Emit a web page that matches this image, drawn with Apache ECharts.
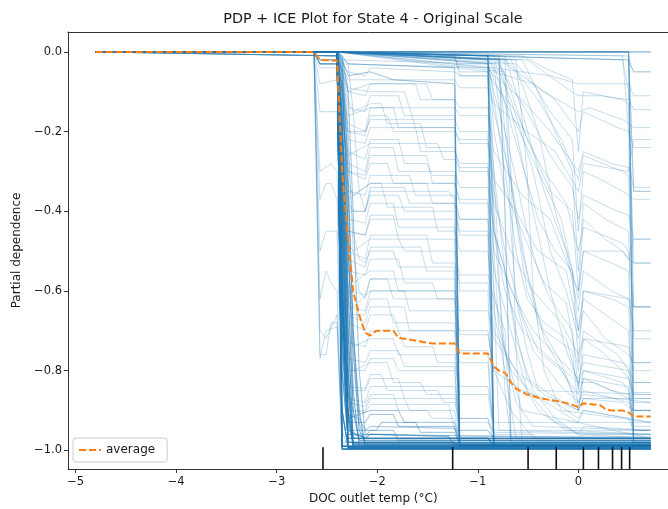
<!DOCTYPE html>
<html>
<head>
<meta charset="utf-8">
<script src="https://cdn.jsdelivr.net/npm/echarts@6/dist/echarts.min.js"></script>
<style>
  html, body { margin: 0; padding: 0; background: #fff; }
  #chart { width: 668px; height: 509px; }
</style>
</head>
<body>
<div id="chart"></div>
<script>
// Partial dependence of the model output on DOC outlet temperature (State 4).
const titleText = 'PDP + ICE Plot for State 4 - Original Scale';
const xName = 'DOC outlet temp (°C)';
const yName = 'Partial dependence';

const xTicks = [-5, -4, -3, -2, -1, 0];
const yTicks = [-1.0, -0.8, -0.6, -0.4, -0.2, 0.0];

// Deciles of the feature (rug at the bottom of the axes)
const rugDeciles = [-2.54, -1.25, -0.50, -0.22, 0.05, 0.20, 0.34, 0.43, 0.51];

// Averaged curve (PDP)
const avgTemp = [-4.80, -2.63, -2.57, -2.40, -2.35, -2.29, -2.24, -2.18, -2.12, -2.07, -2.01, -1.96, -1.84, -1.79, -1.73,
  -1.45, -1.23, -1.18, -0.90, -0.84, -0.79, -0.73, -0.67, -0.62, -0.51, -0.40, -0.28, -0.17, -0.06, 0.00, 0.05, 0.11,
  0.22, 0.27, 0.33, 0.44, 0.50, 0.55, 0.72];
const avgValue = [0, 0, -0.02, -0.022, -0.30, -0.47, -0.60, -0.66, -0.705, -0.712, -0.70, -0.70, -0.70, -0.718, -0.72,
  -0.732, -0.732, -0.757, -0.757, -0.79, -0.80, -0.805, -0.83, -0.845, -0.86, -0.868, -0.874, -0.878, -0.886, -0.892, -0.882, -0.884,
  -0.887, -0.897, -0.90, -0.90, -0.905, -0.915, -0.915];

// Individual conditional expectation curves: every curve starts flat at 0 from the lowest temperature
const iceStart = [-4.80, 0];
const iceCurves = [
  // dropping to the floor just above -2.4 °C
  [[-2.40,0],[-2.35,-0.99],[0.72,-0.99]],
  [[-2.40,0],[-2.35,-0.55],[-2.29,-0.995],[0.72,-0.995]],
  [[-2.63,0],[-2.57,-0.03],[-2.40,-0.03],[-2.35,-0.3],[-2.29,-0.8],[-2.24,-0.985],[0.72,-0.985]],
  [[-2.40,0],[-2.35,-0.997],[0.72,-0.997]],
  [[-2.40,0],[-2.35,-0.7],[-2.29,-0.98],[-1.23,-0.98],[-1.18,-0.99],[0.72,-0.99]],
  [[-2.40,0],[-2.35,-0.15],[-2.29,-0.6],[-2.24,-0.9],[-2.18,-0.975],[0.72,-0.975]],
  [[-2.40,0],[-2.35,-0.9],[-2.29,-0.993],[0.72,-0.993]],
  [[-2.63,0],[-2.57,-0.02],[-2.40,-0.02],[-2.35,-0.45],[-2.29,-0.95],[-2.12,-0.97],[-2.07,-0.96],[-1.29,-0.965],[-1.23,-0.99],[0.72,-0.99]],
  [[-2.40,0],[-2.35,-0.8],[-2.29,-0.97],[-0.90,-0.97],[-0.84,-0.988],[0.72,-0.988]],
  [[-2.40,0],[-2.35,-0.25],[-2.29,-0.5],[-2.24,-0.75],[-2.18,-0.95],[-2.12,-0.98],[0.72,-0.98]],
  [[-2.40,0],[-2.35,-0.4],[-2.29,-0.85],[-2.24,-0.99],[0.72,-0.99]],
  [[-2.40,-0.01],[-2.35,-0.65],[-2.29,-0.9],[-2.24,-0.982],[0.72,-0.982]],
  [[-2.40,0],[-2.35,-0.2],[-2.29,-0.7],[-2.24,-0.97],[0.72,-0.97]],
  [[-2.40,0],[-2.35,-0.6],[-2.29,-0.92],[-2.24,-0.99],[0.72,-0.99]],
  [[-2.40,-0.01],[-2.35,-0.05],[-2.29,-0.45],[-2.24,-0.85],[-2.18,-0.99],[0.72,-0.99]],
  [[-2.40,0],[-2.35,-0.1],[-2.29,-0.35],[-2.24,-0.7],[-2.18,-0.9],[-2.12,-0.99],[0.72,-0.99]],
  // lower band with small steps
  [[-2.40,0],[-2.35,-0.6],[-2.29,-0.93],[-2.12,-0.93],[-2.07,-0.91],[-1.84,-0.91],[-1.79,-0.94],[-1.23,-0.94],[-1.18,-0.985],[0.72,-0.985]],
  [[-2.40,0],[-2.35,-0.5],[-2.29,-0.88],[-2.12,-0.89],[-2.07,-0.86],[-1.84,-0.86],[-1.79,-0.9],[-1.51,-0.9],[-1.45,-0.92],[-1.23,-0.92],[-1.18,-0.97],[-0.90,-0.97],[-0.84,-0.99],[0.72,-0.99]],
  [[-2.40,0],[-2.35,-0.4],[-2.29,-0.8],[-2.24,-0.85],[-2.12,-0.85],[-2.07,-0.82],[-1.79,-0.82],[-1.73,-0.87],[-1.23,-0.87],[-1.18,-0.95],[-0.90,-0.95],[-0.84,-0.97],[0.50,-0.97],[0.55,-0.98],[0.72,-0.98]],
  [[-2.40,0],[-2.35,-0.7],[-2.29,-0.95],[-2.12,-0.95],[-2.07,-0.94],[-1.23,-0.945],[-1.18,-0.985],[0.72,-0.985]],
  [[-2.40,0],[-2.35,-0.35],[-2.29,-0.75],[-2.24,-0.80],[-2.07,-0.78],[-1.90,-0.78],[-1.84,-0.83],[-1.57,-0.83],[-1.51,-0.86],[-1.23,-0.86],[-1.18,-0.92],[-0.90,-0.92],[-0.84,-0.96],[-0.45,-0.96],[-0.40,-0.98],[0.72,-0.98]],
  [[-2.40,0],[-2.35,-0.65],[-2.29,-0.96],[-1.84,-0.96],[-1.79,-0.975],[0.72,-0.975]],
  [[-2.40,0],[-2.35,-0.55],[-2.29,-0.9],[-2.12,-0.905],[-2.07,-0.885],[-1.29,-0.885],[-1.23,-0.95],[-0.90,-0.95],[-0.84,-0.97],[0.00,-0.97],[0.05,-0.96],[0.72,-0.96]],
  [[-2.40,0],[-2.35,-0.45],[-2.29,-0.86],[-2.24,-0.9],[-2.12,-0.9],[-2.07,-0.87],[-1.73,-0.87],[-1.68,-0.9],[-1.23,-0.9],[-1.18,-0.965],[0.72,-0.965]],
  [[-2.40,0],[-2.35,-0.62],[-2.29,-0.91],[-2.18,-0.92],[-2.12,-0.95],[-2.01,-0.95],[-1.96,-0.93],[-1.62,-0.93],[-1.57,-0.955],[-1.23,-0.955],[-1.18,-0.99],[0.72,-0.99]],
  [[-2.40,0],[-2.35,-0.58],[-2.29,-0.84],[-2.12,-0.845],[-2.07,-0.81],[-1.96,-0.81],[-1.90,-0.85],[-1.40,-0.85],[-1.34,-0.88],[-1.23,-0.88],[-1.18,-0.93],[-0.90,-0.93],[-0.84,-0.955],[0.72,-0.96]],
  [[-2.40,0],[-2.35,-0.75],[-2.29,-0.96],[-2.12,-0.965],[-2.07,-0.95],[-1.84,-0.95],[-1.79,-0.97],[-0.90,-0.97],[-0.84,-0.99],[0.72,-0.99]],
  [[-2.40,0],[-2.35,-0.52],[-2.29,-0.87],[-2.12,-0.88],[-2.07,-0.84],[-1.23,-0.84],[-1.18,-0.92],[-0.90,-0.92],[-0.84,-0.985],[0.72,-0.985]],
  [[-2.40,0],[-2.35,-0.62],[-2.29,-0.92],[-2.07,-0.9],[-1.79,-0.9],[-1.73,-0.93],[-1.23,-0.93],[-1.18,-0.975],[0.72,-0.975]],
  // mid-level curves with steps
  [[-2.40,0],[-2.35,-0.1],[-2.29,-0.25],[-2.12,-0.27],[-2.07,-0.22],[-1.79,-0.22],[-1.73,-0.28],[-1.51,-0.28],[-1.45,-0.31],[-1.23,-0.31],[-1.18,-0.99],[0.72,-0.99]],
  [[-2.40,0],[-2.35,-0.2],[-2.29,-0.42],[-2.12,-0.43],[-2.07,-0.38],[-1.84,-0.38],[-1.79,-0.44],[-1.23,-0.44],[-1.18,-0.6],[-0.90,-0.6],[-0.84,-0.97],[0.72,-0.97]],
  [[-2.40,0],[-2.35,-0.05],[-2.29,-0.12],[-2.24,-0.15],[-2.07,-0.13],[-1.96,-0.13],[-1.90,-0.18],[-1.57,-0.18],[-1.51,-0.24],[-1.23,-0.24],[-1.18,-0.3],[-0.90,-0.3],[-0.84,-0.45],[-0.73,-0.55],[-0.62,-0.7],[-0.51,-0.82],[-0.28,-0.86],[0.00,-0.9],[0.05,-0.87],[0.44,-0.88],[0.55,-0.9],[0.72,-0.9]],
  [[-2.40,0],[-2.35,-0.3],[-2.29,-0.55],[-2.12,-0.56],[-2.07,-0.52],[-1.79,-0.52],[-1.73,-0.58],[-1.45,-0.58],[-1.40,-0.62],[-1.23,-0.62],[-1.18,-0.98],[0.72,-0.98]],
  [[-2.40,0],[-2.35,-0.35],[-2.29,-0.62],[-2.24,-0.66],[-2.12,-0.66],[-2.07,-0.62],[-1.90,-0.62],[-1.84,-0.68],[-1.23,-0.68],[-1.18,-0.75],[-0.90,-0.75],[-0.84,-0.99],[0.72,-0.99]],
  [[-2.40,0],[-2.35,-0.02],[-2.29,-0.06],[-2.07,-0.05],[-1.84,-0.07],[-1.23,-0.08],[-1.18,-0.97],[0.72,-0.97]],
  [[-2.40,0],[-2.35,-0.01],[-2.29,-0.03],[-1.23,-0.04],[-1.18,-0.99],[0.72,-0.99]],
  [[-2.40,0],[-2.35,-0.15],[-2.29,-0.35],[-2.12,-0.36],[-2.07,-0.31],[-1.68,-0.31],[-1.62,-0.36],[-1.23,-0.36],[-1.18,-0.42],[-0.90,-0.42],[-0.84,-0.98],[0.72,-0.98]],
  [[-2.40,0],[-2.35,-0.25],[-2.29,-0.48],[-2.24,-0.5],[-2.07,-0.47],[-1.79,-0.47],[-1.73,-0.5],[-1.23,-0.5],[-1.18,-0.56],[-0.90,-0.56],[-0.84,-0.62],[-0.73,-0.7],[-0.67,-0.98],[0.72,-0.98]],
  [[-2.40,0],[-2.35,-0.08],[-2.29,-0.18],[-2.12,-0.2],[-2.07,-0.17],[-1.23,-0.17],[-1.18,-0.2],[-0.90,-0.2],[-0.84,-0.99],[0.72,-0.99]],
  [[-2.40,0],[-2.35,-0.4],[-2.29,-0.7],[-2.24,-0.74],[-2.07,-0.72],[-1.84,-0.72],[-1.79,-0.76],[-1.23,-0.76],[-1.18,-0.84],[-0.90,-0.84],[-0.84,-0.93],[0.72,-0.93]],
  [[-2.40,0],[-2.35,-0.03],[-2.29,-0.09],[-2.07,-0.1],[-1.73,-0.1],[-1.68,-0.14],[-1.23,-0.14],[-1.18,-0.16],[-0.90,-0.16],[-0.84,-0.3],[-0.79,-0.55],[-0.73,-0.85],[-0.67,-0.98],[0.72,-0.98]],
  [[-2.40,0],[-2.35,-0.12],[-2.29,-0.3],[-2.12,-0.31],[-2.07,-0.26],[-1.51,-0.26],[-1.45,-0.33],[-1.23,-0.33],[-1.18,-0.38],[-0.90,-0.38],[-0.84,-0.5],[-0.62,-0.62],[-0.51,-0.75],[-0.40,-0.85],[0.72,-0.86]],
  [[-2.40,0],[-2.35,-0.18],[-2.29,-0.38],[-2.24,-0.4],[-2.12,-0.4],[-2.07,-0.35],[-1.29,-0.35],[-1.23,-0.37],[-1.18,-0.99],[0.72,-0.99]],
  [[-2.40,0],[-2.35,-0.45],[-2.29,-0.77],[-2.12,-0.78],[-2.07,-0.75],[-1.79,-0.75],[-1.73,-0.79],[-1.23,-0.79],[-1.18,-0.99],[0.72,-0.99]],
  [[-2.40,0],[-2.35,-0.06],[-2.29,-0.14],[-2.12,-0.15],[-2.07,-0.11],[-1.79,-0.11],[-1.73,-0.16],[-1.23,-0.16],[-1.18,-0.99],[0.72,-0.99]],
  [[-2.40,0],[-2.35,-0.28],[-2.29,-0.52],[-2.12,-0.54],[-2.07,-0.49],[-1.57,-0.49],[-1.51,-0.55],[-1.23,-0.55],[-1.18,-0.99],[0.72,-0.99]],
  [[-2.40,0],[-2.35,-0.38],[-2.29,-0.66],[-2.12,-0.68],[-2.07,-0.64],[-1.73,-0.64],[-1.68,-0.7],[-1.23,-0.7],[-1.18,-0.78],[-0.90,-0.78],[-0.84,-0.99],[0.72,-0.99]],
  [[-2.40,0],[-2.35,-0.14],[-2.29,-0.33],[-2.24,-0.36],[-2.07,-0.33],[-1.96,-0.33],[-1.90,-0.39],[-1.45,-0.39],[-1.40,-0.45],[-1.23,-0.45],[-1.18,-0.5],[-0.90,-0.5],[-0.84,-0.65],[-0.73,-0.8],[-0.62,-0.97],[0.72,-0.97]],
  [[-2.40,0],[-2.35,-0.22],[-2.29,-0.45],[-2.12,-0.46],[-2.07,-0.41],[-1.84,-0.41],[-1.79,-0.47],[-1.23,-0.47],[-1.18,-0.99],[0.72,-0.99]],
  [[-2.40,0],[-2.35,-0.33],[-2.29,-0.6],[-2.12,-0.61],[-2.07,-0.57],[-1.90,-0.57],[-1.84,-0.62],[-1.23,-0.62],[-1.18,-0.7],[-0.90,-0.7],[-0.84,-0.8],[-0.67,-0.9],[-0.45,-0.97],[0.72,-0.97]],
  [[-2.40,0],[-2.35,-0.1],[-2.29,-0.22],[-2.12,-0.23],[-2.07,-0.19],[-1.62,-0.19],[-1.57,-0.25],[-1.23,-0.25],[-1.18,-0.28],[-0.90,-0.28],[-0.84,-0.99],[0.72,-0.99]],
  [[-2.40,0],[-2.35,-0.42],[-2.29,-0.73],[-2.12,-0.74],[-2.07,-0.7],[-1.79,-0.7],[-1.73,-0.74],[-1.45,-0.74],[-1.40,-0.78],[-1.23,-0.78],[-1.18,-0.86],[-0.90,-0.86],[-0.84,-0.95],[0.72,-0.95]],
  [[-2.40,0],[-2.35,-0.04],[-2.29,-0.1],[-2.12,-0.11],[-2.07,-0.08],[-1.51,-0.08],[-1.45,-0.12],[-1.23,-0.12],[-1.18,-0.99],[0.72,-0.99]],
  [[-2.40,0],[-2.35,-0.26],[-2.29,-0.55],[-2.24,-0.58],[-2.07,-0.55],[-1.84,-0.55],[-1.79,-0.6],[-1.23,-0.6],[-1.18,-0.65],[-0.90,-0.65],[-0.84,-0.72],[-0.62,-0.8],[-0.40,-0.9],[-0.12,-0.95],[0.72,-0.96]],
  [[-2.40,0],[-2.35,-0.2],[-2.29,-0.4],[-2.12,-0.4],[-2.07,-0.34],[-1.73,-0.34],[-1.68,-0.38],[-1.23,-0.38],[-1.18,-0.42],[-0.90,-0.42],[-0.84,-0.55],[-0.67,-0.7],[-0.51,-0.85],[-0.28,-0.92],[0.00,-0.96],[0.05,-0.94],[0.72,-0.95]],
  [[-2.40,0],[-2.35,-0.5],[-2.29,-0.8],[-2.12,-0.8],[-2.07,-0.77],[-1.84,-0.77],[-1.79,-0.8],[-1.23,-0.8],[-1.18,-0.99],[0.72,-0.99]],
  [[-2.40,0],[-2.35,-0.07],[-2.29,-0.16],[-2.07,-0.14],[-1.84,-0.14],[-1.79,-0.19],[-1.23,-0.19],[-1.18,-0.23],[-0.90,-0.23],[-0.84,-0.35],[-0.73,-0.5],[-0.56,-0.66],[-0.40,-0.75],[-0.17,-0.8],[0.00,-0.86],[0.05,-0.82],[0.50,-0.84],[0.55,-0.94],[0.72,-0.94]],
  [[-2.40,0],[-2.35,-0.3],[-2.29,-0.64],[-2.12,-0.65],[-2.07,-0.6],[-1.23,-0.6],[-1.18,-0.99],[0.72,-0.99]],
  [[-2.40,0],[-2.35,-0.16],[-2.29,-0.3],[-2.12,-0.32],[-2.07,-0.28],[-1.90,-0.28],[-1.84,-0.33],[-1.23,-0.33],[-1.18,-0.37],[-0.90,-0.37],[-0.84,-0.99],[0.72,-0.99]],
  [[-2.40,0],[-2.35,-0.03],[-2.29,-0.05],[-2.12,-0.06],[-2.07,-0.04],[-1.23,-0.05],[-1.18,-0.06],[-0.90,-0.06],[-0.84,-0.99],[0.72,-0.99]],
  [[-2.40,0],[-2.35,-0.09],[-2.29,-0.2],[-2.12,-0.2],[-2.07,-0.14],[-1.68,-0.14],[-1.62,-0.19],[-1.23,-0.19],[-1.18,-0.99],[0.72,-0.99]],
  [[-2.40,0],[-2.35,-0.2],[-2.29,-0.37],[-2.07,-0.33],[-1.51,-0.33],[-1.45,-0.38],[-1.23,-0.38],[-1.18,-0.45],[-0.90,-0.45],[-0.84,-0.6],[-0.73,-0.75],[-0.56,-0.9],[0.72,-0.97]],
  [[-2.40,0],[-2.35,-0.35],[-2.29,-0.68],[-2.12,-0.7],[-2.07,-0.66],[-1.84,-0.66],[-1.79,-0.7],[-1.23,-0.7],[-1.18,-0.99],[0.72,-0.99]],
  // early drop at -2.57 °C
  [[-2.63,0],[-2.57,-0.77],[-2.51,-0.7],[-2.40,-0.69],[-2.35,-0.99],[0.72,-0.99]],
  [[-2.63,0],[-2.57,-0.5],[-2.51,-0.45],[-2.40,-0.45],[-2.35,-0.95],[-2.29,-0.995],[0.72,-0.995]],
  [[-2.63,0],[-2.57,-0.3],[-2.46,-0.28],[-2.40,-0.3],[-2.35,-0.8],[-2.29,-0.98],[0.72,-0.98]],
  [[-2.63,0],[-2.57,-0.62],[-2.51,-0.55],[-2.46,-0.58],[-2.40,-0.6],[-2.35,-0.99],[0.72,-0.99]],
  [[-2.63,0],[-2.57,-0.15],[-2.40,-0.15],[-2.35,-0.6],[-2.29,-0.97],[0.72,-0.97]],
  [[-2.63,0],[-2.57,-0.08],[-2.40,-0.07],[-2.35,-0.4],[-2.29,-0.9],[-2.24,-0.99],[0.72,-0.99]],
  [[-2.63,0],[-2.57,-0.04],[-2.40,-0.04],[-2.35,-0.2],[-2.29,-0.45],[-2.12,-0.46],[-2.07,-0.42],[-1.23,-0.42],[-1.18,-0.99],[0.72,-0.99]],
  [[-2.63,0],[-2.57,-0.7],[-2.51,-0.72],[-2.40,-0.66],[-2.35,-0.98],[0.72,-0.98]],
  [[-2.63,0],[-2.57,-0.76],[-2.51,-0.76],[-2.46,-0.68],[-2.40,-0.68],[-2.35,-0.99],[0.72,-0.99]],
  [[-2.63,0],[-2.57,-0.37],[-2.51,-0.33],[-2.46,-0.33],[-2.40,-0.37],[-2.35,-0.9],[-2.29,-0.99],[0.72,-0.99]],
  // staying high until later temperatures
  [[-2.40,0],[0.72,0]],
  [[-2.40,0],[0.50,0],[0.55,-0.35],[0.72,-0.35]],
  [[-2.40,0],[0.50,-0.01],[0.55,-0.64],[0.72,-0.64]],
  [[-2.40,0],[0.44,-0.02],[0.50,-0.1],[0.55,-0.83],[0.72,-0.83]],
  [[-2.40,0],[0.50,0],[0.55,-0.72],[0.72,-0.72]],
  [[-2.40,0],[-0.90,-0.01],[-0.84,-0.99],[0.72,-0.99]],
  [[-2.40,0],[-0.90,0],[-0.84,-0.6],[-0.79,-0.95],[0.72,-0.96]],
  [[-2.40,0],[-0.79,-0.01],[-0.73,-0.4],[-0.67,-0.97],[0.72,-0.97]],
  [[-2.40,0],[-0.73,-0.02],[-0.67,-0.3],[-0.62,-0.75],[-0.56,-0.98],[0.72,-0.98]],
  [[-2.40,0],[0.50,0],[0.55,-0.97],[0.72,-0.97]],
  [[-2.40,0],[0.44,-0.01],[0.50,-0.2],[0.55,-0.9],[0.72,-0.9]],
  [[-2.40,0],[0.50,-0.02],[0.55,-0.05],[0.72,-0.05]],
  // gradual decline at the warm end
  [[-2.40,0],[-2.35,-0.02],[-0.90,-0.03],[-0.84,-0.1],[-0.73,-0.2],[-0.62,-0.32],[-0.51,-0.45],[-0.40,-0.55],[-0.28,-0.62],[-0.06,-0.7],[0.00,-0.85],[0.05,-0.72],[0.22,-0.75],[0.44,-0.8],[0.50,-0.82],[0.55,-0.87],[0.72,-0.87]],
  [[-2.40,0],[-0.90,-0.05],[-0.84,-0.08],[-0.62,-0.15],[-0.45,-0.25],[-0.28,-0.35],[-0.06,-0.4],[0.00,-0.6],[0.05,-0.42],[0.27,-0.47],[0.44,-0.5],[0.50,-0.52],[0.55,-0.53],[0.72,-0.53]],
  [[-2.40,0],[-0.84,-0.03],[-0.73,-0.13],[-0.56,-0.28],[-0.40,-0.42],[-0.23,-0.5],[-0.06,-0.55],[0.00,-0.78],[0.05,-0.6],[0.33,-0.62],[0.50,-0.64],[0.55,-0.98],[0.72,-0.98]],
  [[-2.40,0],[-0.90,-0.02],[-0.84,-0.05],[-0.45,-0.08],[-0.23,-0.12],[0.00,-0.2],[0.05,-0.15],[0.39,-0.19],[0.50,-0.2],[0.55,-0.24],[0.72,-0.24]],
  [[-2.40,0],[-0.84,-0.02],[-0.67,-0.12],[-0.45,-0.3],[-0.28,-0.5],[-0.12,-0.6],[0.00,-0.72],[0.05,-0.65],[0.27,-0.72],[0.50,-0.76],[0.55,-0.78],[0.72,-0.78]],
  [[-2.40,0],[-0.84,-0.04],[-0.73,-0.25],[-0.56,-0.5],[-0.40,-0.68],[-0.17,-0.78],[0.00,-0.9],[0.05,-0.82],[0.33,-0.85],[0.50,-0.86],[0.55,-0.95],[0.72,-0.95]],
  [[-2.40,0],[-0.62,-0.03],[-0.45,-0.08],[-0.28,-0.15],[-0.06,-0.22],[0.00,-0.45],[0.05,-0.3],[0.22,-0.32],[0.44,-0.35],[0.50,-0.36],[0.55,-0.37],[0.72,-0.37]],
  [[-2.40,0],[-0.51,-0.02],[-0.34,-0.05],[-0.12,-0.09],[0.00,-0.11],[0.22,-0.11],[0.50,-0.12],[0.55,-0.145],[0.72,-0.145]],
  [[-2.40,0],[-0.73,-0.02],[-0.56,-0.06],[-0.34,-0.1],[0.00,-0.15],[0.11,-0.14],[0.44,-0.17],[0.50,-0.18],[0.55,-0.19],[0.72,-0.19]],
  [[-2.40,0],[-0.90,-0.01],[-0.84,-0.2],[-0.73,-0.35],[-0.56,-0.45],[-0.34,-0.58],[-0.12,-0.63],[0.00,-0.8],[0.05,-0.7],[0.39,-0.76],[0.50,-0.8],[0.55,-0.98],[0.72,-0.98]],
  [[-2.40,0],[-1.23,-0.01],[-1.18,-0.05],[-0.90,-0.05],[-0.84,-0.15],[-0.67,-0.32],[-0.51,-0.55],[-0.34,-0.72],[-0.12,-0.82],[0.00,-0.88],[0.05,-0.85],[0.50,-0.88],[0.55,-0.9],[0.72,-0.9]],
  [[-2.40,0],[-0.79,-0.02],[-0.62,-0.2],[-0.45,-0.4],[-0.28,-0.6],[-0.12,-0.75],[0.00,-0.83],[0.16,-0.83],[0.50,-0.87],[0.55,-0.88],[0.72,-0.88]],
  [[-2.40,0],[-2.35,-0.03],[-0.90,-0.04],[-0.84,-0.06],[-0.56,-0.12],[-0.28,-0.2],[0.00,-0.3],[0.05,-0.25],[0.33,-0.28],[0.50,-0.29],[0.55,-0.34],[0.72,-0.34]],
  [[-2.40,0],[-0.90,-0.02],[-0.84,-0.3],[-0.73,-0.55],[-0.62,-0.72],[-0.45,-0.85],[-0.23,-0.92],[0.00,-0.96],[0.72,-0.97]],
  [[-2.40,0],[-0.79,-0.03],[-0.73,-0.2],[-0.62,-0.42],[-0.51,-0.6],[-0.34,-0.7],[-0.06,-0.75],[0.00,-0.9],[0.05,-0.8],[0.44,-0.83],[0.50,-0.85],[0.55,-0.99],[0.72,-0.99]],
  [[-2.40,0],[-0.56,-0.02],[-0.40,-0.1],[-0.23,-0.2],[-0.06,-0.3],[0.00,-0.55],[0.05,-0.38],[0.27,-0.42],[0.50,-0.45],[0.55,-0.98],[0.72,-0.98]],
  [[-2.40,0],[-0.84,-0.01],[-0.62,-0.05],[-0.40,-0.12],[-0.17,-0.22],[0.00,-0.32],[0.05,-0.26],[0.44,-0.3],[0.50,-0.31],[0.55,-0.78],[0.72,-0.78]],
  [[-2.40,0],[-1.23,-0.02],[-1.18,-0.03],[-0.90,-0.03],[-0.84,-0.4],[-0.79,-0.6],[-0.73,-0.75],[-0.62,-0.88],[-0.45,-0.94],[0.72,-0.95]],
  [[-2.40,0],[-0.73,-0.01],[-0.56,-0.15],[-0.34,-0.35],[-0.12,-0.5],[0.00,-0.65],[0.05,-0.55],[0.33,-0.6],[0.50,-0.62],[0.55,-0.7],[0.72,-0.7]],
  [[-2.40,0],[-0.90,-0.01],[-0.84,-0.04],[-0.28,-0.06],[0.00,-0.08],[0.50,-0.08],[0.55,-0.11],[0.72,-0.11]],
  [[-2.40,0],[-0.90,-0.02],[-0.84,-0.12],[-0.73,-0.3],[-0.62,-0.5],[-0.51,-0.62],[-0.34,-0.68],[-0.12,-0.72],[0.00,-0.84],[0.05,-0.76],[0.44,-0.78],[0.50,-0.79],[0.55,-0.83],[0.72,-0.83]],
  [[-2.40,0],[-0.79,-0.02],[-0.67,-0.1],[-0.51,-0.22],[-0.34,-0.3],[-0.12,-0.38],[0.00,-0.5],[0.05,-0.44],[0.44,-0.48],[0.50,-0.5],[0.55,-0.64],[0.72,-0.64]],
  [[-2.40,0],[-0.90,-0.04],[-0.84,-0.5],[-0.79,-0.7],[-0.67,-0.8],[-0.45,-0.86],[0.00,-0.93],[0.05,-0.9],[0.72,-0.93]],
  [[-2.40,0],[-0.67,-0.02],[-0.56,-0.08],[-0.40,-0.2],[-0.23,-0.4],[-0.06,-0.55],[0.00,-0.7],[0.05,-0.62],[0.27,-0.66],[0.50,-0.7],[0.55,-0.99],[0.72,-0.99]],
  [[-2.40,0],[-0.84,-0.01],[-0.73,-0.06],[-0.51,-0.15],[-0.28,-0.26],[-0.06,-0.34],[0.00,-0.42],[0.05,-0.36],[0.39,-0.4],[0.50,-0.41],[0.55,-0.47],[0.72,-0.47]],
  [[-2.40,0],[-0.73,-0.05],[-0.67,-0.45],[-0.62,-0.62],[-0.45,-0.75],[-0.17,-0.84],[0.00,-0.88],[0.05,-0.86],[0.72,-0.88]],
  [[-2.40,0],[-0.90,-0.03],[-0.84,-0.07],[-0.62,-0.18],[-0.40,-0.3],[-0.17,-0.42],[0.00,-0.62],[0.05,-0.5],[0.33,-0.53],[0.50,-0.55],[0.55,-0.9],[0.72,-0.9]],
  [[-2.40,0],[-0.56,-0.01],[-0.34,-0.04],[-0.06,-0.07],[0.00,-0.25],[0.05,-0.1],[0.44,-0.12],[0.50,-0.13],[0.55,-0.53],[0.72,-0.53]],
  [[-2.40,0],[-1.23,-0.01],[-1.18,-0.06],[-0.90,-0.06],[-0.84,-0.45],[-0.73,-0.6],[-0.56,-0.7],[-0.28,-0.77],[0.00,-0.83],[0.05,-0.8],[0.50,-0.82],[0.55,-0.86],[0.72,-0.86]],
  [[-2.40,0],[-0.62,-0.02],[-0.51,-0.3],[-0.45,-0.6],[-0.34,-0.8],[-0.17,-0.9],[0.72,-0.93]],
  // mid-level plateaus continuing to the warm end
  [[-2.40,0],[-2.35,-0.05],[-2.29,-0.1],[-2.07,-0.08],[-1.62,-0.08],[-1.57,-0.12],[-1.23,-0.12],[-1.18,-0.14],[-0.90,-0.14],[-0.84,-0.25],[-0.56,-0.36],[-0.28,-0.42],[0.00,-0.6],[0.05,-0.5],[0.44,-0.5],[0.50,-0.52],[0.55,-0.47],[0.72,-0.47]],
  [[-2.40,0],[-2.35,-0.15],[-2.29,-0.28],[-2.12,-0.3],[-2.07,-0.24],[-1.84,-0.24],[-1.79,-0.3],[-1.23,-0.3],[-1.18,-0.34],[-0.90,-0.34],[-0.84,-0.45],[-0.67,-0.6],[-0.45,-0.7],[-0.23,-0.76],[0.00,-0.82],[0.05,-0.78],[0.50,-0.8],[0.55,-0.855],[0.72,-0.855]],
  [[-2.40,0],[-2.35,-0.22],[-2.29,-0.5],[-2.12,-0.52],[-2.07,-0.46],[-1.51,-0.46],[-1.45,-0.53],[-1.23,-0.53],[-1.18,-0.58],[-0.90,-0.58],[-0.84,-0.7],[-0.62,-0.8],[-0.34,-0.86],[0.00,-0.9],[0.05,-0.87],[0.72,-0.87]],
  [[-2.40,0],[-2.35,-0.3],[-2.29,-0.6],[-2.24,-0.64],[-2.07,-0.6],[-1.73,-0.6],[-1.68,-0.65],[-1.23,-0.65],[-1.18,-0.71],[-0.90,-0.71],[-0.84,-0.8],[-0.56,-0.85],[-0.23,-0.88],[0.00,-0.92],[0.05,-0.9],[0.50,-0.92],[0.55,-0.95],[0.72,-0.95]],
  [[-2.40,0],[-2.35,-0.04],[-2.29,-0.07],[-1.23,-0.07],[-1.18,-0.09],[-0.90,-0.09],[-0.84,-0.13],[-0.51,-0.2],[-0.23,-0.25],[0.00,-0.35],[0.05,-0.28],[0.50,-0.3],[0.55,-0.22],[0.72,-0.22]],
  [[-2.40,0],[-2.35,-0.08],[-2.29,-0.2],[-2.12,-0.21],[-2.07,-0.16],[-1.90,-0.16],[-1.84,-0.2],[-1.23,-0.2],[-1.18,-0.22],[-0.90,-0.22],[-0.84,-0.32],[-0.62,-0.4],[-0.40,-0.5],[-0.12,-0.55],[0.00,-0.7],[0.05,-0.6],[0.50,-0.62],[0.55,-0.64],[0.72,-0.64]],
  [[-2.40,0],[-2.35,-0.1],[-2.29,-0.26],[-2.07,-0.23],[-1.40,-0.23],[-1.34,-0.27],[-1.23,-0.27],[-1.18,-0.29],[-0.90,-0.29],[-0.84,-0.38],[-0.67,-0.5],[-0.45,-0.6],[-0.17,-0.68],[0.00,-0.76],[0.05,-0.72],[0.50,-0.74],[0.55,-0.8],[0.72,-0.8]],
  // slower descent right after -2.35 °C
  [[-2.40,0],[-2.35,-0.01],[-2.29,-0.1],[-2.24,-0.4],[-2.18,-0.8],[-2.12,-0.96],[0.72,-0.97]],
  [[-2.40,0],[-2.35,-0.02],[-2.29,-0.2],[-2.24,-0.5],[-2.18,-0.6],[-2.12,-0.62],[-2.07,-0.57],[-1.23,-0.57],[-1.18,-0.99],[0.72,-0.99]],
  [[-2.40,0],[-2.29,-0.03],[-2.24,-0.15],[-2.18,-0.35],[-2.12,-0.4],[-2.07,-0.36],[-1.79,-0.36],[-1.73,-0.4],[-1.23,-0.4],[-1.18,-0.46],[-0.90,-0.46],[-0.84,-0.99],[0.72,-0.99]],
  [[-2.40,0],[-2.35,-0.02],[-2.29,-0.3],[-2.24,-0.7],[-2.18,-0.93],[-2.12,-0.985],[0.72,-0.985]],
  [[-2.40,0],[-2.35,-0.05],[-2.29,-0.25],[-2.24,-0.45],[-2.18,-0.52],[-2.12,-0.53],[-2.07,-0.5],[-1.84,-0.5],[-1.79,-0.54],[-1.23,-0.54],[-1.18,-0.99],[0.72,-0.99]]
];
// how many samples follow each curve
const iceCopies = [
  10, 8, 6, 12, 6, 4, 8, 4, 4, 3, 5, 5, 5, 5, 3, 3,
  2, 1, 1, 2, 1, 2, 1, 1, 2, 1, 2, 1, 2,
  1, 1, 1, 1, 1, 2, 2, 1, 1, 1, 1, 1, 1, 1, 1,
  1, 1, 1, 1, 1, 1, 1, 1, 1, 1, 1, 1, 1, 1, 1,
  1, 1, 1, 1,
  1, 1, 1, 1, 1, 1, 1, 1, 1, 1,
  3, 2, 1, 1, 1, 3, 1, 2, 1, 2, 1, 2,
  1, 1, 1, 1, 1, 1, 1, 1, 1, 1, 1, 1, 1, 1, 1, 1, 1, 1, 1, 1,
  1, 1, 1, 1, 1, 1, 1, 1, 1, 1,
  1, 1, 1, 1, 1, 1, 1,
  2, 1, 1, 2, 1
];

const iceItems = [];
iceCurves.forEach((pts, i) => {
  const n = iceCopies[i] || 1;
  for (let c = 0; c < n; c++) iceItems.push({ coords: [iceStart].concat(pts) });
});

const FONT = 'DejaVu Sans';
const TXT = '#1a1a1a';
const minus = (s) => s.replace('-', '\u2212');

const chart = echarts.init(document.getElementById('chart'), null, { renderer: 'canvas' });

const X_MIN = -5.076, X_MAX = 0.996, Y_MIN = -1.047, Y_MAX = 0.05;

chart.setOption({
  animation: false,
  backgroundColor: '#ffffff',
  title: {
    text: titleText,
    left: 368,
    top: 7,
    textAlign: 'center',
    textStyle: { fontFamily: FONT, fontSize: 14.4, fontWeight: 'normal', color: TXT }
  },
  legend: {
    data: [{ name: 'average' }],
    left: 73,
    top: 438,
    itemWidth: 22,
    itemHeight: 12,
    padding: [6, 12, 6, 5],
    borderColor: '#cccccc',
    borderWidth: 1,
    borderRadius: 3,
    backgroundColor: 'rgba(255,255,255,0.8)',
    itemStyle: { opacity: 0 },
    textStyle: { fontFamily: FONT, fontSize: 12, color: TXT }
  },
  grid: { left: 68, right: -10.5, top: 32, bottom: 40, outerBoundsMode: 'none', containLabel: false },
  xAxis: [{
    type: 'value',
    min: X_MIN, max: X_MAX,
    name: xName,
    nameLocation: 'middle',
    nameGap: 23,
    nameTextStyle: { fontFamily: FONT, fontSize: 12, color: TXT },
    axisLine: { show: true, onZero: false, lineStyle: { color: '#333', width: 1 } },
    axisTick: { show: true, length: 4, inside: false, customValues: xTicks, lineStyle: { color: '#333' } },
    axisLabel: { customValues: xTicks, margin: 7, fontFamily: FONT, fontSize: 11.5, color: TXT,
      formatter: (v) => minus(String(Math.round(v))) },
    splitLine: { show: false }
  }, {
    type: 'value', position: 'top',
    min: X_MIN, max: X_MAX,
    axisLine: { show: true, onZero: false, lineStyle: { color: '#333', width: 1 } },
    axisTick: { show: false }, axisLabel: { show: false }, splitLine: { show: false }
  }],
  yAxis: {
    type: 'value',
    min: Y_MIN, max: Y_MAX,
    name: yName,
    nameLocation: 'middle',
    nameGap: 42,
    nameTextStyle: { fontFamily: FONT, fontSize: 12, color: TXT },
    axisLine: { show: true, onZero: false, lineStyle: { color: '#333', width: 1 } },
    axisTick: { show: true, length: 4, customValues: yTicks, lineStyle: { color: '#333' } },
    axisLabel: { customValues: yTicks, margin: 6, fontFamily: FONT, fontSize: 11.5, color: TXT,
      formatter: (v) => minus((Math.abs(v) < 1e-9 ? 0 : v).toFixed(1)) },
    splitLine: { show: false }
  },
  series: [
    {
      name: 'ice',
      type: 'lines',
      coordinateSystem: 'cartesian2d',
      polyline: true,
      silent: true,
      data: iceItems,
      lineStyle: { color: '#1f77b4', width: 1, opacity: 0.25 },
      z: 2
    },
    {
      name: 'average',
      type: 'line',
      data: avgTemp.map((t, i) => [t, avgValue[i]]),
      symbol: 'none',
      silent: true,
      color: '#ff7f0e',
      lineStyle: { color: '#ff7f0e', width: 2, type: [7, 3] },
      z: 5
    },
    {
      name: 'deciles',
      type: 'custom',
      silent: true,
      data: rugDeciles.map((v) => [v, Y_MIN]),
      renderItem: (params, api) => {
        const cs = params.coordSys;
        const x = api.coord([api.value(0), Y_MIN])[0];
        return {
          type: 'line',
          shape: { x1: x, y1: cs.y + cs.height, x2: x, y2: cs.y + cs.height * 0.95 },
          style: { stroke: '#111', lineWidth: 1.6 }
        };
      },
      z: 4
    }
  ]
});
</script>
</body>
</html>
